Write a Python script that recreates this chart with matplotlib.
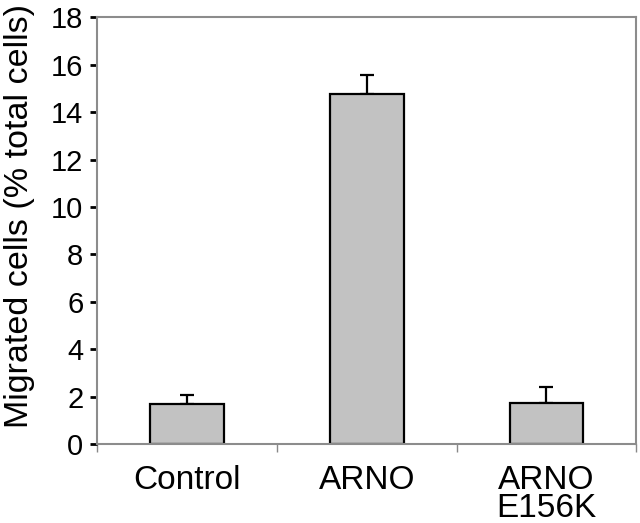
import numpy as np
import matplotlib
matplotlib.use("Agg")
import matplotlib.pyplot as plt

plt.rcParams['font.family'] = ['Liberation Sans', 'DejaVu Sans']

categories = ["Control", "ARNO", "ARNO\nE156K"]
values = [1.7, 14.75, 1.72]
errors = [0.35, 0.8, 0.68]
yticks = [0, 2, 4, 6, 8, 10, 12, 14, 16, 18]

fig = plt.figure(figsize=(6.4, 5.23), dpi=100)
ax = fig.add_axes([0.152, 0.151, 0.842, 0.816])

x = np.arange(len(categories))
ax.bar(x, values, width=0.41, color="#c2c2c2", edgecolor="black", linewidth=1.6, zorder=2)
ax.errorbar(x, values, yerr=[np.zeros(len(errors)), errors], fmt="none",
            ecolor="black", elinewidth=1.6, capsize=5, capthick=1.6, zorder=1)

ax.set_xlim(-0.5, len(categories) - 0.5)
ax.set_ylim(0, 18)
ax.set_yticks(yticks)
ax.set_yticklabels([str(t) for t in yticks], fontsize=21)

# category labels centred, ticks at the boundaries
ax.set_xticks(x)
ax.set_xticklabels(categories, fontsize=24, linespacing=0.9)
ax.tick_params(axis="x", length=0, pad=15)
ax.set_xticks(np.arange(len(categories) + 1) - 0.5, minor=True)
ax.tick_params(axis="x", which="minor", length=6, color="#888888", width=1)
ax.tick_params(axis="y", length=5, width=2, color="black", pad=5)

for s in ax.spines.values():
    s.set_color("#8c8c8c")
    s.set_linewidth(1.5)

ax.set_ylabel("Migrated cells (% total cells)", fontsize=24.5)
ax.yaxis.set_label_coords(-0.115, 0.535)

fig.savefig("out.png", dpi=100)
